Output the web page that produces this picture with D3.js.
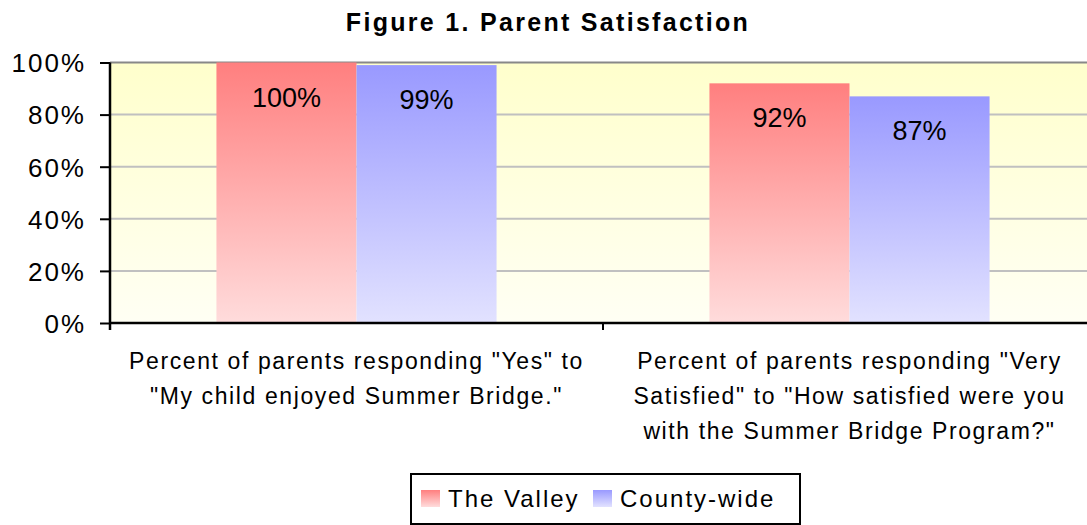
<!DOCTYPE html>
<html>
<head>
<meta charset="utf-8">
<script src="https://cdn.jsdelivr.net/npm/d3@7"></script>
<style>
  body { margin: 0; background: #fff; }
  text { font-family: "Liberation Sans", Arial, sans-serif; fill: #000; }
</style>
</head>
<body>
<div id="chart"></div>
<script>
// chart data
const categories = ["yes", "very"];
const categoryLines = [
    ["Percent of parents responding \"Yes\" to", "\"My child enjoyed Summer Bridge.\""],
    ["Percent of parents responding \"Very", "Satisfied\" to \"How satisfied were you", "with the Summer Bridge Program?\""]
];
const series = ["The Valley", "County-wide"];
const valleyValues = [1.00, 0.92];
const countyValues = [0.99, 0.87];
const yTicks = [0, 0.2, 0.4, 0.6, 0.8, 1.0];

const width = 1087, height = 525;
const margin = { top: 62.5, right: -9, left: 110 };
const plotBottom = 323;
const colors = {
    "The Valley": ["#ff7f7f", "#ffdcdc"],
    "County-wide": ["#9999ff", "#e2e2ff"]
};

const svg = d3.select("#chart").append("svg")
    .attr("width", width)
    .attr("height", height);

const defs = svg.append("defs");
function addGradient(id, top, bottom) {
    const g = defs.append("linearGradient")
        .attr("id", id)
        .attr("x1", 0).attr("y1", 0).attr("x2", 0).attr("y2", 1);
    g.append("stop").attr("offset", "0%").attr("stop-color", top);
    g.append("stop").attr("offset", "100%").attr("stop-color", bottom);
}
addGradient("bg", "#ffffcc", "#fffff4");
series.forEach((s, i) => addGradient("grad" + i, colors[s][0], colors[s][1]));

const x0 = d3.scaleBand()
    .domain(categories)
    .range([margin.left, width - margin.right])
    .padding(0);

const x1 = d3.scaleBand()
    .domain(series)
    .range([0, x0.bandwidth()])
    .paddingInner(0)
    .paddingOuter(0.76);

const y = d3.scaleLinear()
    .domain([0, 1])
    .range([plotBottom, margin.top]);

// plot background
svg.append("rect")
    .attr("x", margin.left)
    .attr("y", y(1))
    .attr("width", width - margin.left)
    .attr("height", y(0) - y(1))
    .attr("fill", "url(#bg)");

// gridlines
svg.append("g")
    .selectAll("line")
    .data(yTicks.filter(d => d > 0))
    .join("line")
    .attr("x1", margin.left)
    .attr("x2", width)
    .attr("y1", d => y(d))
    .attr("y2", d => y(d))
    .attr("stroke", d => d === 1 ? "#888" : "#c0c0c0")
    .attr("stroke-width", 2);

// bars
const rows = categories.map((c, i) => ({
    cat: c,
    values: [
        { key: series[0], value: valleyValues[i], idx: 0 },
        { key: series[1], value: countyValues[i], idx: 1 }
    ]
}));

const groups = svg.append("g")
    .selectAll("g")
    .data(rows)
    .join("g")
    .attr("transform", d => `translate(${x0(d.cat)},0)`);

groups.selectAll("rect")
    .data(d => d.values)
    .join("rect")
    .attr("x", d => x1(d.key))
    .attr("y", d => y(d.value))
    .attr("width", x1.bandwidth())
    .attr("height", d => y(0) - y(d.value))
    .attr("fill", d => "url(#grad" + d.idx + ")");

groups.selectAll("text")
    .data(d => d.values)
    .join("text")
    .attr("x", d => x1(d.key) + x1.bandwidth() / 2)
    .attr("y", d => y(d.value) + 44)
    .attr("text-anchor", "middle")
    .style("font-size", "27px")
    .text(d => d3.format(".0%")(d.value));

// y axis
const yAxis = svg.append("g")
    .attr("transform", `translate(${margin.left},0)`)
    .call(d3.axisLeft(y).tickValues(yTicks).tickSize(10).tickPadding(14).tickFormat(d3.format(".0%")));
yAxis.select(".domain").attr("stroke", "#000").attr("stroke-width", 2.5)
    .attr("d", `M0,${y(1)}V${y(0) + 7}`);
yAxis.selectAll(".tick line").attr("stroke", "#000").attr("stroke-width", 2);
yAxis.selectAll(".tick text")
    .attr("fill", "#000")
    .style("font-size", "26px")
    .style("letter-spacing", "2px")
    .attr("dy", "0.36em");

// x axis
const xAxis = svg.append("g")
    .attr("transform", `translate(0,${y(0)})`);
xAxis.append("line")
    .attr("x1", margin.left).attr("x2", width)
    .attr("y1", 0).attr("y2", 0)
    .attr("stroke", "#000").attr("stroke-width", 2.5);
xAxis.selectAll(".divider")
    .data(categories.slice(1))
    .join("line")
    .attr("class", "divider")
    .attr("x1", d => x0(d)).attr("x2", d => x0(d))
    .attr("y1", 0).attr("y2", 7)
    .attr("stroke", "#000").attr("stroke-width", 2);

// category labels
const catLabels = svg.append("g")
    .selectAll("text")
    .data(categories)
    .join("text")
    .attr("text-anchor", "middle")
    .style("font-size", "23px")
    .style("letter-spacing", "1.6px");
catLabels.each(function(d, i) {
    d3.select(this).selectAll("tspan")
        .data(categoryLines[i])
        .join("tspan")
        .attr("x", x0(d) + x0.bandwidth() / 2)
        .attr("y", (l, j) => 369 + j * 35)
        .text(l => l);
});

// title
svg.append("text")
    .attr("x", 548)
    .attr("y", 31)
    .attr("text-anchor", "middle")
    .style("font-size", "25px")
    .style("font-weight", "bold")
    .style("letter-spacing", "2.3px")
    .text("Figure 1. Parent Satisfaction");

// legend
const legend = svg.append("g").attr("transform", "translate(411,474)");
legend.append("rect")
    .attr("width", 389).attr("height", 50)
    .attr("fill", "#fff").attr("stroke", "#000").attr("stroke-width", 2);
const legendX = [10, 182];
const item = legend.selectAll(".item")
    .data(series)
    .join("g")
    .attr("class", "item")
    .attr("transform", (d, i) => `translate(${legendX[i]},16)`);
item.append("rect")
    .attr("width", 19).attr("height", 17)
    .attr("fill", (d, i) => "url(#grad" + i + ")");
item.append("text")
    .attr("x", 27).attr("y", 17)
    .style("font-size", "24px")
    .style("letter-spacing", "2px")
    .text(d => d);
</script>
</body>
</html>
